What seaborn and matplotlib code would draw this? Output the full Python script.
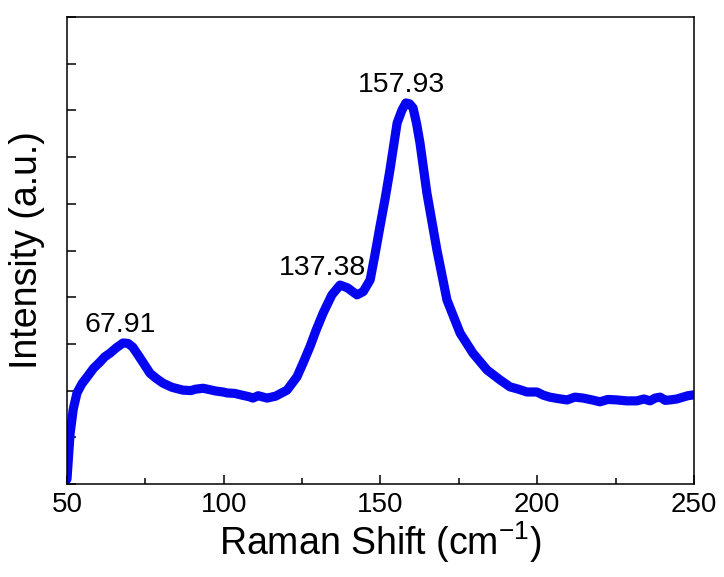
import pandas as pd
import matplotlib.pyplot as plt
import seaborn as sns
from matplotlib.ticker import MultipleLocator

# Raman spectrum (intensity in arbitrary units)
raman_shift = [50.0, 51.0, 52.0, 53.2, 54.8, 56.4, 58.5, 60.5, 62.0, 63.7, 65.8, 67.9,
               69.5, 71.0, 73.5, 76.5, 78.5, 80.6, 83.5, 87.0, 89.5, 91.0, 93.4, 95.5,
               97.5, 99.8, 101.0, 103.5, 106.0, 108.0, 109.3, 111.0, 113.8, 116.5,
               120.2, 123.4, 125.5, 127.5, 129.5, 131.7, 134.5, 137.1, 139.5, 142.5,
               144.5, 146.7, 148.2, 149.8, 151.5, 153.0, 155.3, 156.8, 158.1, 159.3,
               160.4, 161.5, 162.6, 164.8, 168.0, 171.2, 175.4, 179.5, 184.0, 188.1,
               191.3, 194.0, 196.7, 199.9, 202.0, 204.0, 206.5, 209.5, 212.0, 214.6,
               217.5, 220.0, 222.5, 225.4, 228.5, 231.8, 234.0, 236.0, 237.6, 239.2,
               240.8, 242.3, 244.5, 246.5, 248.0, 250.0]
intensity = [10, 108, 160, 195, 215, 229, 248, 261, 272, 280, 292, 302,
             301, 293, 268, 237, 226, 216, 207, 201, 200, 203, 205, 202,
             199, 197, 195, 194, 190, 187, 184, 189, 184, 188,
             201, 230, 262, 294, 330, 366, 405, 426, 420, 405,
             412, 437, 490, 550, 612, 672, 773, 800, 816, 814,
             805, 772, 730, 623, 501, 394, 323, 280, 244, 223,
             208, 203, 197, 197, 190, 186, 183, 180, 186, 184,
             180, 176, 181, 180, 178, 178, 182, 178, 184, 186,
             179, 180, 182, 186, 189, 191]

peak_x = [67.91, 137.38, 157.93]
peak_y = [302, 426, 816]
peak_labels = ['67.91', '137.38', '157.93']
label_offsets = [(-2, 8), (-13, 7.5), (-2.5, 8)]

df = pd.DataFrame({'shift': raman_shift, 'intensity': intensity})

sns.set_style('ticks')
plt.rcParams['font.family'] = ['Liberation Sans', 'DejaVu Sans']
plt.rcParams['mathtext.fontset'] = 'custom'
plt.rcParams['mathtext.rm'] = 'Liberation Sans'
for key in ['text.color', 'axes.labelcolor', 'xtick.color', 'ytick.color']:
    plt.rcParams[key] = 'black'

fig = plt.figure(figsize=(7.24, 5.77), dpi=100)
ax = fig.add_axes([0.0925, 0.1612, 0.8661, 0.8093])

sns.lineplot(data=df, x='shift', y='intensity', color='#0505f2', linewidth=6.6,
             solid_joinstyle='round', solid_capstyle='round', ax=ax)

for px, py, lab, off in zip(peak_x, peak_y, peak_labels, label_offsets):
    ax.annotate(lab, (px, py), xytext=off, textcoords='offset points',
                ha='center', va='baseline', fontsize=20.5, color='black')

ax.set_xlim(50, 250)
ax.set_ylim(0, 1000)
ax.xaxis.set_major_locator(MultipleLocator(50))
ax.xaxis.set_minor_locator(MultipleLocator(25))
ax.yaxis.set_major_locator(MultipleLocator(100))
ax.set_yticklabels([])
ax.tick_params(direction='in', which='major', length=6.5, width=1.1,
               labelsize=20, pad=6)
ax.tick_params(direction='in', which='minor', length=4, width=1.1)
for s in ax.spines.values():
    s.set_linewidth(1.1)
    s.set_color('black')

ax.set_xlabel(r'Raman Shift (cm$\mathregular{^{-1}}$)', fontsize=27, labelpad=1)
ax.set_ylabel('Intensity (a.u.)', fontsize=27, labelpad=10)

fig.savefig('out.png', dpi=100)
